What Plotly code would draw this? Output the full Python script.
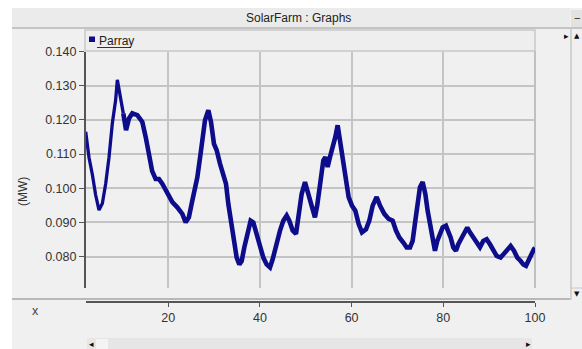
import plotly.graph_objects as go

# ---- data ----
x_vals = [2.0, 2.72, 3.45, 4.17, 4.9, 5.63, 6.36, 7.08, 7.81, 8.53, 8.9, 9.48, 10.2, 10.8,
          11.44, 12.17, 13.26, 14.35, 15.08, 15.8, 16.5, 17.26, 17.98, 18.7, 19.44, 20.17,
          20.9, 21.98, 23.07, 23.8, 24.5, 25.26, 26.35, 27.05, 27.51, 28.02, 28.75, 29.33,
          29.98, 30.57, 31.29, 32.02, 32.6, 33.11, 33.62, 34.2, 34.93, 35.51, 36.02, 36.6,
          37.25, 37.98, 38.56, 39.14, 39.87, 40.74, 41.47, 42.2, 42.78, 43.5, 44.38, 45.1,
          45.83, 46.41, 47.14, 47.87, 48.38, 49.1, 49.83, 50.56, 51.28, 52.0, 52.5, 53.2,
          53.83, 54.27, 54.77, 55.28, 55.87, 56.45, 56.96, 57.46, 58.05, 58.77, 59.35, 60.08,
          60.81, 61.54, 62.26, 63.14, 63.86, 64.59, 65.46, 66.19, 67.13, 68.08, 68.95, 69.68,
          70.41, 71.28, 72.0, 72.73, 73.31, 73.9, 74.4, 74.91, 75.49, 76.08, 76.58, 77.17,
          77.75, 78.18, 78.69, 79.27, 79.85, 80.58, 81.09, 81.6, 82.18, 82.76, 83.27, 84.0,
          84.72, 85.23, 85.81, 86.54, 87.27, 87.99, 88.72, 89.45, 90.18, 90.9, 91.63, 92.5,
          93.23, 93.96, 94.68, 95.41, 96.14, 96.87, 97.45, 98.03, 98.61, 99.26, 99.77, 100.0]
parray = [0.1165, 0.109, 0.104, 0.098, 0.0936, 0.0955, 0.1013, 0.109, 0.119, 0.1258, 0.1317,
          0.1277, 0.1219, 0.117, 0.1204, 0.1219, 0.1214, 0.1194, 0.115, 0.109, 0.105, 0.1027,
          0.1027, 0.1013, 0.0993, 0.0974, 0.0959, 0.0944, 0.0925, 0.090, 0.0915, 0.0964,
          0.1032, 0.110, 0.115, 0.1199, 0.1228, 0.1194, 0.113, 0.1111, 0.1072, 0.1042, 0.1013,
          0.0954, 0.0905, 0.0846, 0.0797, 0.0777, 0.0787, 0.0827, 0.0871, 0.0905, 0.090,
          0.0871, 0.0831, 0.0797, 0.0777, 0.0768, 0.0792, 0.0836, 0.0876, 0.0905, 0.092,
          0.0905, 0.0876, 0.0866, 0.0915, 0.0983, 0.1018, 0.0983, 0.0944, 0.0915, 0.0950,
          0.1010, 0.1081, 0.1091, 0.1062, 0.1091, 0.1116, 0.115, 0.1184, 0.114, 0.1081,
          0.1023, 0.0974, 0.0949, 0.0934, 0.0895, 0.0871, 0.088, 0.0905, 0.0949, 0.0974,
          0.0949, 0.0925, 0.091, 0.0905, 0.0876, 0.0856, 0.0841, 0.0827, 0.0827, 0.0846,
          0.0905, 0.0964, 0.1003, 0.1018, 0.0983, 0.0934, 0.0885, 0.0843, 0.0817, 0.0846,
          0.0866, 0.0885, 0.089, 0.0876, 0.0856, 0.0827, 0.0817, 0.0836, 0.0856, 0.0876,
          0.0885, 0.0871, 0.0856, 0.0836, 0.0827, 0.0846, 0.0851, 0.0836, 0.0817, 0.0802,
          0.0797, 0.0807, 0.0817, 0.0831, 0.0817, 0.0797, 0.0787, 0.0777, 0.0773, 0.0792,
          0.0812, 0.0822, 0.0825]

y_ticks = [0.080, 0.090, 0.100, 0.110, 0.120, 0.130, 0.140]
y_tick_labels = ["0.080", "0.090", "0.100", "0.110", "0.120", "0.130", "0.140"]
x_ticks = [20, 40, 60, 80, 100]
x_tick_labels = ["20", "40", "60", "80", "100"]
series_name = "Parray"
window_title = "SolarFarm : Graphs"
y_label = "(MW)"
x_label = "x"

W, H = 582, 349
def X(p):
    return p / W
def Y(p):
    return 1 - p / H

FONT = "Liberation Sans, Arial, sans-serif"
NAVY = "#0d0d8c"

# the trace looks thinner (less noise) over the first peak, thicker afterwards
split = 12
fig = go.Figure()
fig.add_trace(go.Scatter(x=x_vals[:split + 1], y=parray[:split + 1], mode="lines",
                         name=series_name, line=dict(color=NAVY, width=3.3),
                         showlegend=False, hoverinfo="skip"))
fig.add_trace(go.Scatter(x=x_vals[split:], y=parray[split:], mode="lines",
                         name=series_name, line=dict(color=NAVY, width=4.6),
                         showlegend=False, hoverinfo="skip"))

def rect(x0, x1, y0, y1, fill, line=None, layer="below"):
    return dict(type="rect", xref="paper", yref="paper", x0=X(x0), x1=X(x1),
                y0=Y(y1), y1=Y(y0), fillcolor=fill,
                line=line if line else dict(width=0), layer=layer)

def hline(x0, x1, y, color, w):
    return dict(type="line", xref="paper", yref="paper", x0=X(x0), x1=X(x1), y0=Y(y), y1=Y(y),
                line=dict(color=color, width=w), layer="below")

def vline(x, y0, y1, color, w):
    return dict(type="line", xref="paper", yref="paper", x0=X(x), x1=X(x), y0=Y(y0), y1=Y(y1),
                line=dict(color=color, width=w), layer="below")

shapes = [
    rect(12, 582, 8, 349, "#f0f0f0"),                 # window body
    rect(12, 570, 8, 27, "#ebebeb"),                  # title bar
    rect(571, 582, 10, 27, "#e2e2e2"),                # minimise button
    hline(12, 582, 28, "#c4c4c4", 2),
    rect(85, 535, 30, 51, "#eeeeee", dict(color="#c8c8c8", width=1.5)),   # legend bar
    rect(89, 95, 36.5, 42, NAVY, layer="above"),      # legend marker
    dict(type="line", xref="paper", yref="paper", x0=X(97), x1=X(131), y0=Y(47.5),
         y1=Y(47.5), line=dict(color="#333333", width=1)),
    vline(535, 51, 288, "#c0c0c0", 2),                # plot right border
    vline(571, 29, 300, "#c8c8c8", 1.5),              # vertical scrollbar
    hline(571, 582, 288, "#c8c8c8", 1),
    hline(12, 570, 299, "#b8b8b8", 2),                # separator below plot
    rect(87, 532, 338, 349, "#e6e6e6"),               # bottom scrollbar
    rect(96, 108, 339, 349, "#f4f4f4"),
]

def txt(s, x, y, size, color="#222222", family=FONT, xa="center", ya="middle", angle=0):
    return dict(text=s, x=X(x), y=Y(y), xref="paper", yref="paper", xanchor=xa, yanchor=ya,
                showarrow=False, textangle=angle, font=dict(family=family, size=size, color=color))

annotations = [
    txt(window_title, 298, 17.5, 12),
    txt("\u2212", 576.5, 18, 11),
    txt(series_name, 96.5, 40.5, 12, xa="left"),
    txt(y_label, 23, 192, 12, "#333333", angle=-90),
    txt(x_label, 35, 311, 12.5, "#444444"),
    txt("\u25b8", 566, 35.5, 9, "#111111", family="DejaVu Sans"),
    txt("\u25b2", 577, 35.5, 7, "#111111", family="DejaVu Sans"),
    txt("\u25bc", 577, 294, 7, "#111111", family="DejaVu Sans"),
    txt("\u25c2", 91, 344, 9, "#111111", family="DejaVu Sans"),
    txt("\u25b8", 528, 344, 9, "#111111", family="DejaVu Sans"),
]

axis_font = dict(family=FONT, size=12.5, color="#333333")
fig.update_layout(
    width=W, height=H, autosize=False,
    margin=dict(l=0, r=0, t=0, b=0, pad=0),
    paper_bgcolor="#ffffff", plot_bgcolor="#ffffff",
    shapes=shapes, annotations=annotations, showlegend=False,
    xaxis=dict(domain=[X(85.7), X(535)], range=[2, 100], anchor="free", position=Y(302),
               tickvals=x_ticks, ticktext=x_tick_labels, showgrid=True,
               gridcolor="#c4c4c4", gridwidth=1.8, showline=True, linecolor="#555555",
               linewidth=1.5, ticks="outside", ticklen=4, tickcolor="#555555",
               tickfont=axis_font, zeroline=False, fixedrange=True, automargin=False),
    yaxis=dict(domain=[Y(288), Y(51.5)], range=[0.0708, 0.140], tickvals=y_ticks,
               ticktext=y_tick_labels, showgrid=True, gridcolor="#c4c4c4", gridwidth=1.8,
               showline=True, linecolor="#555555", linewidth=1.5, ticks="outside",
               ticklen=5, tickcolor="#555555", tickfont=axis_font, zeroline=False,
               fixedrange=True, automargin=False),
)

fig.write_html("out.html", config={"displayModeBar": False},
               post_script="document.body.style.margin='0';document.body.style.overflow='hidden';")
